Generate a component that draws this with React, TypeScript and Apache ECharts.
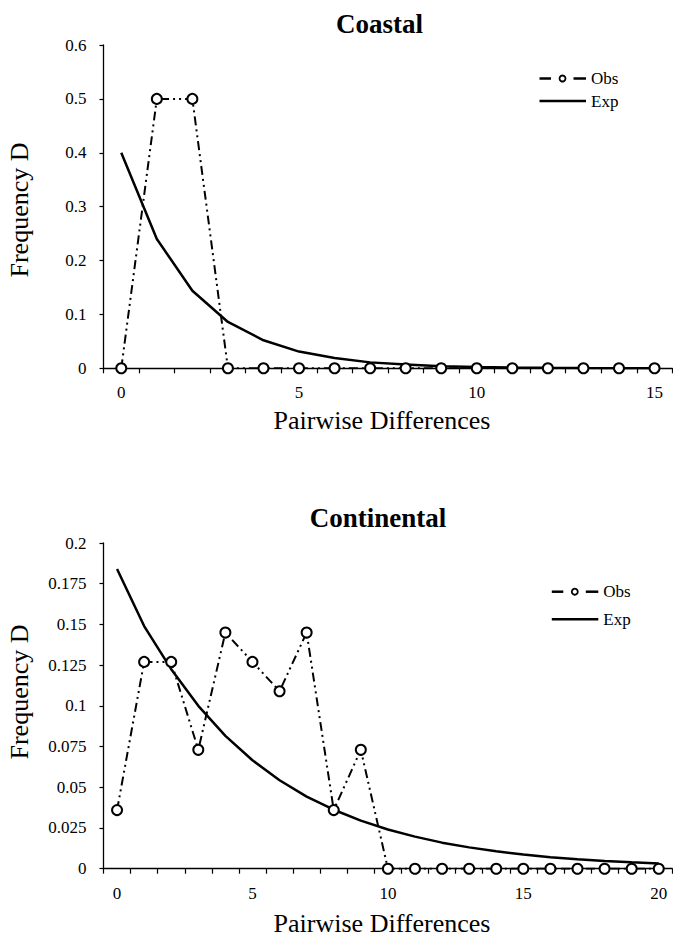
import React, { useEffect, useRef } from "react";
import * as echarts from "echarts";

const coastalCategories = ["0","1","2","3","4","5","6","7","8","9","10","11","12","13","14","15"];
const coastalObs = [0, 0.5, 0.5, 0, 0, 0, 0, 0, 0, 0, 0, 0, 0, 0, 0, 0];
const coastalExp = [0.4, 0.24, 0.144, 0.086, 0.052, 0.031, 0.019, 0.011, 0.007, 0.004, 0.0025, 0.0015, 0.0009, 0.0005, 0.0003, 0.0002];

const continentalCategories = ["0","1","2","3","4","5","6","7","8","9","10","11","12","13","14","15","16","17","18","19","20"];
const continentalObs = [0.036, 0.127, 0.127, 0.073, 0.145, 0.127, 0.109, 0.145, 0.036, 0.073, 0, 0, 0, 0, 0, 0, 0, 0, 0, 0, 0];
const continentalExp = [0.184, 0.149, 0.1225, 0.1, 0.0816, 0.0666, 0.0543, 0.0443, 0.0362, 0.0295, 0.0241, 0.0197, 0.016, 0.0131, 0.0107, 0.0087, 0.0071, 0.0058, 0.0047, 0.0039, 0.0032];

const panelTitles = ["Coastal", "Continental"];
const xAxisTitle = "Pairwise Differences";
const yAxisTitle = "Frequency D";
const seriesNames = ["Obs", "Exp"];

const FONT = '"Liberation Serif", "Times New Roman", serif';

export default function App() {
  const ref = useRef<HTMLDivElement>(null);

  useEffect(() => {
    if (!ref.current) return;
    const chart = echarts.init(ref.current, undefined, { renderer: "svg" });

    const obsLine = { color: "#000", width: 2, type: [9, 4, 2, 4, 2, 4] as any };
    const expLine = { color: "#000", width: 2.5, type: "solid" as const };
    const obsItem = { color: "#fff", borderColor: "#000", borderWidth: 2 };

    const xAxisBase = (cats: string[], gridIndex: number) => ({
      type: "category" as const,
      gridIndex,
      data: cats,
      boundaryGap: true,
      axisLine: { show: true, lineStyle: { color: "#000", width: 1.3 } },
      axisTick: { show: true, interval: 0, length: 5, lineStyle: { color: "#000", width: 1.2 } },
      axisLabel: { interval: 4, margin: 16, color: "#000", fontSize: 17, fontFamily: FONT },
      splitLine: { show: false },
    });

    const yAxisBase = (gridIndex: number, max: number, interval: number) => ({
      type: "value" as const,
      gridIndex,
      min: 0,
      max,
      interval,
      axisLine: { show: true, lineStyle: { color: "#000", width: 1.3 } },
      axisTick: { show: true, length: 4, lineStyle: { color: "#000", width: 1.2 } },
      axisLabel: {
        margin: 17,
        color: "#000",
        fontSize: 17,
        fontFamily: FONT,
        formatter: (v: number) => String(+v.toFixed(3)),
      },
      splitLine: { show: false },
    });

    const legendGraphic = (x0: number, yObs: number, yExp: number) => [
      { type: "line", shape: { x1: x0, y1: yObs, x2: x0 + 11.5, y2: yObs }, style: { stroke: "#000", lineWidth: 2.5 } },
      { type: "circle", shape: { cx: x0 + 23, cy: yObs, r: 3 }, style: { fill: "#fff", stroke: "#000", lineWidth: 1.8 } },
      { type: "line", shape: { x1: x0 + 34, y1: yObs, x2: x0 + 46.5, y2: yObs }, style: { stroke: "#000", lineWidth: 2.5 } },
      { type: "text", x: x0 + 51.5, y: yObs, style: { text: seriesNames[0], fill: "#000", fontSize: 17, fontFamily: FONT, align: "left", verticalAlign: "middle" } },
      { type: "line", shape: { x1: x0, y1: yExp, x2: x0 + 46.5, y2: yExp }, style: { stroke: "#000", lineWidth: 2.5 } },
      { type: "text", x: x0 + 51.5, y: yExp, style: { text: seriesNames[1], fill: "#000", fontSize: 17, fontFamily: FONT, align: "left", verticalAlign: "middle" } },
    ];

    chart.setOption({
      animation: false,
      backgroundColor: "#fff",
      grid: [
        { left: 103.5, top: 45, width: 568.8, height: 323.3 },
        { left: 103.5, top: 543, width: 568.8, height: 325.7 },
      ],
      xAxis: [xAxisBase(coastalCategories, 0), xAxisBase(continentalCategories, 1)],
      yAxis: [yAxisBase(0, 0.6, 0.1), yAxisBase(1, 0.2, 0.025)],
      series: [
        {
          name: seriesNames[1], type: "line", xAxisIndex: 0, yAxisIndex: 0,
          data: coastalExp, showSymbol: false, symbol: "none", lineStyle: expLine, itemStyle: { color: "#000" },
        },
        {
          name: seriesNames[0], type: "line", xAxisIndex: 0, yAxisIndex: 0,
          data: coastalObs, symbol: "circle", symbolSize: 10, lineStyle: obsLine, itemStyle: obsItem,
        },
        {
          name: seriesNames[1], type: "line", xAxisIndex: 1, yAxisIndex: 1,
          data: continentalExp, showSymbol: false, symbol: "none", lineStyle: expLine, itemStyle: { color: "#000" },
        },
        {
          name: seriesNames[0], type: "line", xAxisIndex: 1, yAxisIndex: 1,
          data: continentalObs, symbol: "circle", symbolSize: 10, lineStyle: obsLine, itemStyle: obsItem,
        },
      ],
      graphic: [
        { type: "text", x: 379.5, y: 23.5, style: { text: panelTitles[0], fill: "#000", fontSize: 27, fontWeight: "bold", fontFamily: FONT, align: "center", verticalAlign: "middle" } },
        { type: "text", x: 378, y: 517.5, style: { text: panelTitles[1], fill: "#000", fontSize: 27, fontWeight: "bold", fontFamily: FONT, align: "center", verticalAlign: "middle" } },
        { type: "text", x: 382, y: 420.3, style: { text: xAxisTitle, fill: "#000", fontSize: 26, fontFamily: FONT, align: "center", verticalAlign: "middle" } },
        { type: "text", x: 382, y: 923.5, style: { text: xAxisTitle, fill: "#000", fontSize: 26, fontFamily: FONT, align: "center", verticalAlign: "middle" } },
        { type: "text", x: 19.5, y: 210, rotation: Math.PI / 2, style: { text: yAxisTitle, fill: "#000", fontSize: 26, fontFamily: FONT, align: "center", verticalAlign: "middle" } },
        { type: "text", x: 19.5, y: 692, rotation: Math.PI / 2, style: { text: yAxisTitle, fill: "#000", fontSize: 26, fontFamily: FONT, align: "center", verticalAlign: "middle" } },
        ...legendGraphic(539.5, 78.5, 101),
        ...legendGraphic(551.8, 591.7, 619.3),
      ],
    });

    return () => chart.dispose();
  }, []);

  return (
    <div
      ref={ref}
      style={{ position: "fixed", left: 0, top: 0, width: 673, height: 937, background: "#fff" }}
    />
  );
}
